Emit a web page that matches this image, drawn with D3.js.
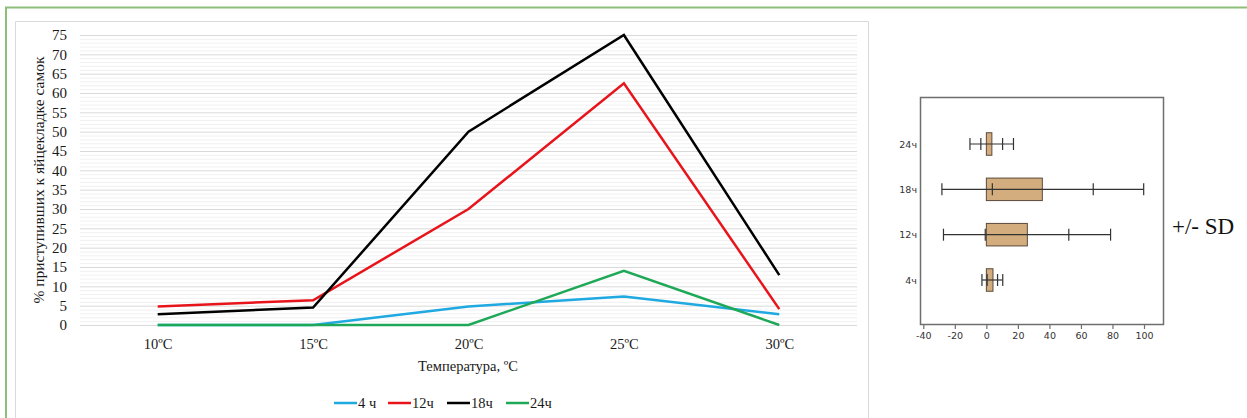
<html>
<head>
<meta charset="utf-8">
<style>
    body { margin:0; background:#fff; }
    svg text { font-family:"Liberation Serif","Times New Roman",serif; }
    .bx text { font-family:"DejaVu Sans",sans-serif; }
</style>
</head>
<body>
<div id="chart"></div>
<script src="https://cdnjs.cloudflare.com/ajax/libs/d3/7.8.5/d3.min.js"></script>
<script>
// line chart data
var temps = ["10ºC","15ºC","20ºC","25ºC","30ºC"];
var s4  = [0, 0, 4.8, 7.4, 2.8];
var s12 = [4.8, 6.4, 30, 62.5, 4.1];
var s18 = [2.8, 4.5, 50, 75, 12.9];
var s24 = [0, 0, 0, 14, 0];
var seriesNames = ["4 ч","12ч","18ч","24ч"];
var seriesColors = ["#1fa9e1","#e8141b","#000000","#1fa857"];
var yTicks = [0,5,10,15,20,25,30,35,40,45,50,55,60,65,70,75];

// box plot data (+/- SD)
var boxLabels = ["4ч","12ч","18ч","24ч"];
var boxLow  = [0, 0, 0, 0];
var boxHigh = [4.2, 26, 35.5, 3.5];
var boxMean = [3.8, 25.8, 35.8, 3.4];
var boxSD   = [3.3, 26.5, 32, 6.9];
var boxTicks = [-40,-20,0,20,40,60,80,100];

var W = 1247, H = 418;
var svg = d3.select("#chart").append("svg").attr("width", W).attr("height", H);

// outer green frame (only top and left visible)
svg.append("path").attr("d","M6,418 L6,7.5 L1247,7.5")
    .attr("fill","none").attr("stroke","#8cc07a").attr("stroke-width",2);
// grey box around the line chart
svg.append("path").attr("d","M15.5,418 L15.5,21.5 L868.5,21.5 L868.5,418")
    .attr("fill","none").attr("stroke","#d9d9d9").attr("stroke-width",1);

// ---------- line chart ----------
var x = d3.scalePoint().domain(temps).range([80, 857]).padding(0.5);
var y = d3.scaleLinear().domain([0,75]).range([325, 35]);

var grid = svg.append("g");
grid.selectAll("line.minor").data(d3.range(0,76,1))
    .enter().append("line")
    .attr("x1",80).attr("x2",857)
    .attr("y1",function(d){return y(d)+0.5;}).attr("y2",function(d){return y(d)+0.5;})
    .attr("stroke", function(d){ return d%5==0 ? "#d9d9d9" : "#f1f1f1"; })
    .attr("stroke-width",1);

var yAxis = svg.append("g").attr("transform","translate(80,0)")
    .call(d3.axisLeft(y).tickValues(yTicks).tickSize(0).tickPadding(13));
yAxis.select(".domain").remove();
yAxis.selectAll("text").attr("font-size",15).attr("fill","#1a1a1a")
    .style("font-family","'Liberation Serif',serif");

var xAxis = svg.append("g").attr("transform","translate(0,325)")
    .call(d3.axisBottom(x).tickSize(0).tickPadding(14));
xAxis.select(".domain").remove();
xAxis.selectAll("text").attr("font-size",14.5).attr("fill","#1a1a1a")
    .style("font-family","'Liberation Serif',serif");

svg.append("text").attr("x",468).attr("y",371).attr("text-anchor","middle")
    .attr("font-size",14.5).attr("fill","#1a1a1a").text("Температура, ºC");
svg.append("text").attr("transform","translate(44,180) rotate(-90)")
    .attr("text-anchor","middle").attr("font-size",15.5).attr("fill","#1a1a1a")
    .text("% приступивших к яйцекладке самок");

var allSeries = [s4, s12, s18, s24];
var line = d3.line()
    .x(function(d,i){ return x(temps[i]); })
    .y(function(d){ return y(d); });
svg.append("g").selectAll("path").data(allSeries)
    .enter().append("path")
    .attr("d", line)
    .attr("fill","none")
    .attr("stroke", function(d,i){ return seriesColors[i]; })
    .attr("stroke-width",2.5)
    .attr("stroke-linejoin","miter");

// legend
var legX = [334, 388, 447, 506];
var leg = svg.append("g").selectAll("g").data(seriesNames).enter().append("g")
    .attr("transform", function(d,i){ return "translate(" + legX[i] + ",403)"; });
leg.append("line").attr("x1",0).attr("x2",23).attr("y1",0).attr("y2",0)
    .attr("stroke", function(d,i){ return seriesColors[i]; }).attr("stroke-width",2.5);
leg.append("text").attr("x",24).attr("y",5).attr("font-size",14.5).attr("fill","#1a1a1a")
    .text(function(d){ return d; });

// ---------- box plot ----------
var bx = d3.scaleLinear().domain([-40,100]).range([923.3, 1144]);
var by = d3.scalePoint().domain(boxLabels).range([280, 144]);
var bg = svg.append("g").attr("class","bx");

bg.append("rect").attr("x",920.5).attr("y",97.5).attr("width",243).attr("height",227)
    .attr("fill","none").attr("stroke","#6e6e6e").attr("stroke-width",1.5);

var bxAxis = bg.append("g").attr("transform","translate(0,325)")
    .call(d3.axisBottom(bx).tickValues(boxTicks).tickSize(4).tickPadding(3)
        .tickFormat(function(d){ return String(d); }));
bxAxis.select(".domain").remove();
bxAxis.selectAll("line").attr("stroke","#6e6e6e").attr("stroke-width",1.2);
bxAxis.selectAll("text").attr("font-size",9.5).attr("fill","#333")
    .style("font-family","'DejaVu Sans',sans-serif");

bg.selectAll("text.lab").data(boxLabels).enter().append("text")
    .attr("class","lab").attr("x",917).attr("y",function(d){ return by(d)+3.5; })
    .attr("text-anchor","end").attr("font-size",9.5).attr("fill","#333")
    .text(function(d){ return d; });

var bh = 22.5;
var rows = bg.selectAll("g.row").data(boxLabels).enter().append("g").attr("class","row");
rows.append("rect")
    .attr("x", function(d,i){ return bx(boxLow[i]); })
    .attr("y", function(d){ return by(d) - bh/2; })
    .attr("width", function(d,i){ return bx(boxHigh[i]) - bx(boxLow[i]); })
    .attr("height", bh)
    .attr("fill","#d4ad7e").attr("stroke","#5a4a3a").attr("stroke-width",1);
rows.append("line")
    .attr("x1", function(d,i){ return bx(boxMean[i] - 2*boxSD[i]); })
    .attr("x2", function(d,i){ return bx(boxMean[i] + 2*boxSD[i]); })
    .attr("y1", function(d){ return by(d); }).attr("y2", function(d){ return by(d); })
    .attr("stroke","#333").attr("stroke-width",1.2);
[-2,-1,1,2].forEach(function(k){
    rows.append("line")
        .attr("x1", function(d,i){ return bx(boxMean[i] + k*boxSD[i]); })
        .attr("x2", function(d,i){ return bx(boxMean[i] + k*boxSD[i]); })
        .attr("y1", function(d){ return by(d) - 6; })
        .attr("y2", function(d){ return by(d) + 6; })
        .attr("stroke","#333").attr("stroke-width",1.2);
});

svg.append("text").attr("x",1172).attr("y",234)
    .style("font-family","'Liberation Serif','Times New Roman',serif")
    .attr("font-size",23).attr("fill","#111")
    .text("+/- SD");
</script>
</body>
</html>
